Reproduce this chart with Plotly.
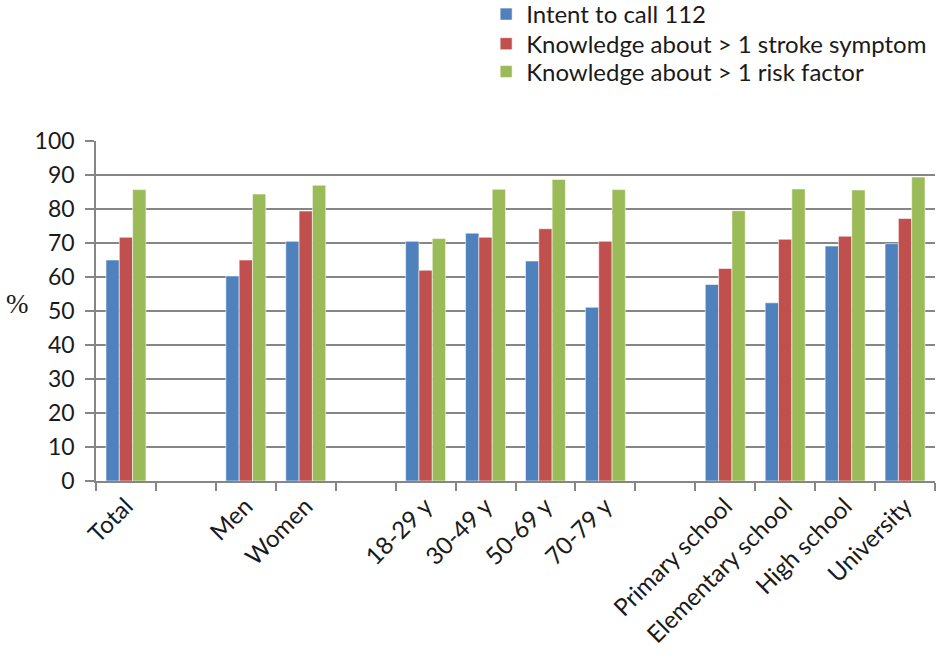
import plotly.graph_objects as go

categories = ["Total", " ", "Men", "Women", "  ", "18-29 y", "30-49 y", "50-69 y", "70-79 y",
              "   ", "Primary school", "Elementary school", "High school", "University"]
intent_112 = [65.0, None, 60.3, 70.5, None, 70.5, 72.9, 64.7, 51.1, None, 57.8, 52.4, 69.1, 69.8]
stroke_symptom = [71.7, None, 65.0, 79.4, None, 62.0, 71.7, 74.2, 70.5, None, 62.5, 71.1, 72.0, 77.2]
risk_factor = [85.7, None, 84.4, 87.0, None, 71.3, 85.8, 88.7, 85.7, None, 79.5, 85.9, 85.6, 89.4]
series_names = ["Intent to call 112", "Knowledge about > 1 stroke symptom", "Knowledge about > 1 risk factor"]
colors = ["#4F81BD", "#C0504D", "#9BBB59"]
y_ticks = list(range(0, 101, 10))

FONT = "Lato, Open Sans, sans-serif"
legend_ids = ["legend", "legend2", "legend3"]
legend_rows = [1.372, 1.285, 1.203]

fig = go.Figure()
for name, vals, col, lid in zip(series_names, [intent_112, stroke_symptom, risk_factor], colors, legend_ids):
    fig.add_trace(go.Bar(x=categories, y=vals, name=name, marker_color=col, legend=lid,
                         marker_line=dict(color="rgba(255,255,255,0.55)", width=1)))

legend_common = dict(x=0.465, xanchor="left", yanchor="middle", xref="paper", yref="paper",
                     font=dict(size=24, family=FONT, color="#1a1a1a"), itemwidth=30,
                     bgcolor="rgba(0,0,0,0)")
fig.update_layout(
    width=939, height=660,
    margin=dict(l=96, r=4, t=141, b=179, autoexpand=False),
    plot_bgcolor="white", paper_bgcolor="white",
    barmode="group", bargap=1/3, bargroupgap=0,
    font=dict(family=FONT, size=23, color="#1a1a1a"),
    legend=dict(y=legend_rows[0], **legend_common),
    legend2=dict(y=legend_rows[1], **legend_common),
    legend3=dict(y=legend_rows[2], **legend_common),
    showlegend=True,
)
fig.update_xaxes(type="category", tickson="boundaries", ticks="outside", ticklen=8,
                 tickcolor="#868686", tickwidth=1.5, showline=True, linecolor="#868686", linewidth=1.5,
                 tickangle=-45, showgrid=False, tickfont=dict(size=24, family=FONT))
fig.update_yaxes(range=[0, 100], tickvals=y_ticks, ticks="outside", ticklen=9, tickcolor="#868686",
                 tickwidth=1.5, showline=True, linecolor="#868686", linewidth=1.5,
                 showgrid=True, gridcolor="#868686", gridwidth=1.5, zeroline=False,
                 ticklabelstandoff=6, tickfont=dict(size=23, family=FONT))
fig.add_annotation(text="%", x=-0.093, xref="paper", xanchor="center", showarrow=False,
                   y=52, yref="y", font=dict(family="Liberation Serif, serif", size=27, color="#1a1a1a"))
fig.write_html("out.html")
